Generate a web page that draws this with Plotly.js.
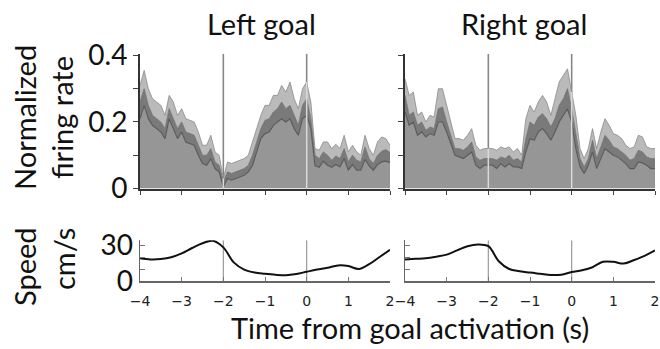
<!DOCTYPE html>
<html>
<head>
<meta charset="utf-8">
<script src="https://cdn.plot.ly/plotly-3.0.1.min.js"></script>
<style>html,body{margin:0;padding:0;background:#fff;}#chart{width:660px;height:349px;}</style>
</head>
<body>
<div id="chart"></div>
<script>
// ---- Data ----
const timeFR = [-4.0,-3.9,-3.8,-3.7,-3.6,-3.5,-3.4,-3.3,-3.2,-3.1,-3.0,-2.9,-2.8,-2.7,-2.6,-2.5,-2.4,-2.3,-2.2,-2.1,-2.0,-1.9,-1.8,-1.7,-1.6,-1.5,-1.4,-1.3,-1.2,-1.1,-1.0,-0.9,-0.8,-0.7,-0.6,-0.5,-0.4,-0.3,-0.2,-0.1,0.0,0.1,0.2,0.3,0.4,0.5,0.6,0.7,0.8,0.9,1.0,1.1,1.2,1.3,1.4,1.5,1.6,1.7,1.8,1.9,2.0];

// Left goal: upper (mean+SEM), mean, lower (mean-SEM)
const leftUpper = [0.31,0.355,0.30,0.27,0.26,0.25,0.22,0.28,0.26,0.22,0.24,0.21,0.205,0.20,0.17,0.13,0.13,0.16,0.11,0.10,0.03,0.08,0.075,0.08,0.085,0.09,0.10,0.14,0.18,0.22,0.25,0.25,0.28,0.28,0.31,0.29,0.32,0.27,0.24,0.30,0.32,0.26,0.12,0.115,0.14,0.14,0.12,0.133,0.12,0.16,0.11,0.13,0.11,0.10,0.16,0.12,0.10,0.14,0.155,0.15,0.13];
const leftMean  = [0.26,0.30,0.25,0.22,0.21,0.20,0.18,0.24,0.21,0.18,0.20,0.17,0.165,0.16,0.13,0.10,0.10,0.12,0.08,0.07,0.02,0.05,0.045,0.05,0.055,0.06,0.07,0.10,0.14,0.18,0.205,0.21,0.23,0.24,0.26,0.24,0.25,0.22,0.19,0.25,0.27,0.21,0.10,0.09,0.11,0.10,0.085,0.098,0.09,0.12,0.08,0.10,0.085,0.08,0.125,0.09,0.075,0.10,0.112,0.117,0.108];
const leftLower = [0.21,0.25,0.21,0.19,0.18,0.17,0.15,0.21,0.18,0.15,0.17,0.14,0.135,0.13,0.10,0.075,0.07,0.09,0.06,0.05,0.005,0.03,0.025,0.03,0.035,0.04,0.05,0.07,0.11,0.15,0.165,0.17,0.19,0.20,0.21,0.20,0.21,0.18,0.16,0.21,0.22,0.18,0.068,0.064,0.082,0.07,0.064,0.072,0.065,0.09,0.055,0.072,0.055,0.055,0.088,0.068,0.055,0.072,0.08,0.082,0.078];

// Right goal
const rightUpper = [0.33,0.28,0.29,0.22,0.23,0.20,0.22,0.215,0.30,0.30,0.25,0.20,0.15,0.15,0.145,0.16,0.18,0.13,0.115,0.12,0.12,0.12,0.115,0.125,0.12,0.125,0.11,0.12,0.10,0.21,0.25,0.23,0.26,0.28,0.26,0.22,0.27,0.32,0.34,0.36,0.29,0.22,0.12,0.09,0.12,0.18,0.12,0.17,0.21,0.19,0.165,0.16,0.15,0.13,0.12,0.125,0.16,0.155,0.125,0.12,0.12];
const rightMean  = [0.28,0.22,0.23,0.19,0.20,0.175,0.185,0.18,0.24,0.245,0.20,0.16,0.12,0.12,0.115,0.125,0.14,0.095,0.085,0.09,0.09,0.09,0.085,0.095,0.09,0.10,0.085,0.09,0.08,0.15,0.20,0.19,0.215,0.225,0.21,0.185,0.21,0.25,0.27,0.30,0.24,0.16,0.09,0.065,0.09,0.145,0.09,0.125,0.16,0.145,0.125,0.12,0.11,0.10,0.085,0.09,0.115,0.11,0.095,0.09,0.09];
const rightLower = [0.23,0.19,0.20,0.16,0.17,0.155,0.165,0.16,0.20,0.20,0.17,0.135,0.10,0.095,0.09,0.10,0.11,0.07,0.06,0.07,0.07,0.07,0.06,0.075,0.065,0.075,0.065,0.065,0.06,0.11,0.15,0.145,0.17,0.18,0.165,0.145,0.17,0.20,0.22,0.24,0.20,0.12,0.065,0.045,0.07,0.11,0.06,0.09,0.12,0.11,0.10,0.095,0.085,0.075,0.06,0.06,0.08,0.077,0.07,0.06,0.06];

// Running speed (cm/s)
const timeSpeed = [-4.0,-3.75,-3.5,-3.25,-3.0,-2.75,-2.5,-2.25,-2.0,-1.75,-1.5,-1.25,-1.0,-0.75,-0.5,-0.25,0.0,0.25,0.5,0.75,1.0,1.25,1.5,1.75,2.0];
const leftSpeed  = [19,18,18.3,19.8,23,27.5,31.5,33.5,28,15.5,9.5,7,6,5.2,4.8,5.8,7.7,9.5,11,13,12.5,10,14,20,26];
const rightSpeed = [18,18.5,19,20.3,22,25.5,29,30.5,29,16.5,10,8.2,7,6,5,5.3,7.5,9,11.5,16,16,14.5,17.5,21,25.5];

const xTicks = [-4,-3,-2,-1,0,1,2];
const xTickText = ['\u22124','\u22123','\u22122','\u22121','0','1','2'];
const frTicks = [0,0.1,0.2,0.3,0.4];
const frTickText = ['0','','0.2','','0.4'];
const spTicks = [0,10,20,30];
const spTickText = ['0','','','30'];
const eventTimes = [-2, 0];

// ---- Styling ----
const baseFill = '#969696', meanFill = '#7a7a7a', semFill = '#bababa';
const traces = [];
function band(xa, ya, lo, mid, up) {
  traces.push({x: timeFR, y: lo, xaxis: xa, yaxis: ya, type: 'scatter', mode: 'lines',
    line: {color: '#5c5c5c', width: 1.2}, fill: 'tozeroy', fillcolor: baseFill, hoverinfo: 'skip'});
  traces.push({x: timeFR, y: mid, xaxis: xa, yaxis: ya, type: 'scatter', mode: 'lines',
    line: {color: '#6a6a6a', width: 0.8}, fill: 'tonexty', fillcolor: meanFill, hoverinfo: 'skip'});
  traces.push({x: timeFR, y: up, xaxis: xa, yaxis: ya, type: 'scatter', mode: 'lines',
    line: {color: '#8a8a8a', width: 0.8}, fill: 'tonexty', fillcolor: semFill, hoverinfo: 'skip'});
  // light event-line segment inside the filled area
  eventTimes.forEach(function(et){
    const i = timeFR.indexOf(et);
    traces.push({x: [et, et], y: [0, up[i]], xaxis: xa, yaxis: ya, type: 'scatter', mode: 'lines',
      line: {color: '#d9d9d9', width: 1.5}, hoverinfo: 'skip'});
  });
}
band('x', 'y', leftLower, leftMean, leftUpper);
band('x2', 'y2', rightLower, rightMean, rightUpper);

traces.push({x: timeSpeed, y: leftSpeed, xaxis: 'x3', yaxis: 'y3', type: 'scatter', mode: 'lines',
  line: {color: '#111', width: 2, shape: 'spline', smoothing: 1}, hoverinfo: 'skip'});
traces.push({x: timeSpeed, y: rightSpeed, xaxis: 'x4', yaxis: 'y4', type: 'scatter', mode: 'lines',
  line: {color: '#111', width: 2, shape: 'spline', smoothing: 1}, hoverinfo: 'skip'});

const W = 660, H = 349;
const px = v => v / W, py = v => 1 - v / H;
const frRange = [0, 0.405], spRange = [0, 34];
const tickFontBig = {family: 'Lato, sans-serif', size: 28, color: '#111'};
const tickFontSmall = {family: 'DejaVu Sans, sans-serif', size: 14, color: '#222'};

function topX(dom) {
  return {domain: dom, range: [-4, 2], showgrid: false, zeroline: false, showline: true,
    linecolor: '#333', linewidth: 2, ticks: 'outside', ticklen: 4, tickwidth: 1, tickcolor: '#444',
    tickvals: xTicks, showticklabels: false, fixedrange: true};
}
function topY(dom, anchor, labels) {
  return {domain: dom, range: frRange, anchor: anchor, showgrid: false, zeroline: false, showline: true,
    linecolor: '#333', linewidth: 2, ticks: 'outside', ticklen: 5, tickwidth: 1, tickcolor: '#444',
    tickvals: frTicks, ticktext: frTickText, showticklabels: labels, tickfont: tickFontBig, fixedrange: true};
}
function botX(dom, anchor) {
  return {domain: dom, range: [-4, 2], anchor: anchor, showgrid: false, zeroline: false, showline: true,
    linecolor: '#666', linewidth: 1.5, ticks: 'inside', ticklen: 4, tickwidth: 1, tickcolor: '#777',
    tickvals: xTicks, ticktext: xTickText, tickfont: tickFontSmall, ticklabelstandoff: 7, fixedrange: true};
}
function botY(dom, anchor, labels) {
  return {domain: dom, range: spRange, anchor: anchor, showgrid: false, zeroline: false, showline: true,
    linecolor: '#666', linewidth: 1.5, ticks: 'inside', ticklen: 5, tickwidth: 1, tickcolor: '#777',
    tickvals: spTicks, ticktext: spTickText, showticklabels: labels, tickfont: tickFontBig, fixedrange: true};
}

const xL = [px(140), px(390)], xR = [px(405), px(655)];
const yTop = [py(188.5), py(53.8)], yBot = [py(281), py(240.2)];

const shapes = [];
[['x','y',frRange],['x2','y2',frRange],['x3','y3',spRange],['x4','y4',spRange]].forEach(function(a, k){
  eventTimes.forEach(function(et){
    shapes.push({type: 'line', xref: a[0], yref: a[1], x0: et, x1: et, y0: a[2][0], y1: a[2][1],
      layer: 'below', line: {color: k < 2 ? '#8c8585' : '#9a9a9a', width: k < 2 ? 1.6 : 1.2}});
  });
});

const annFont = {family: 'Lato, sans-serif', size: 29, color: '#111'};
const annotations = [
  {text: 'Left goal', x: px(261), y: py(24), xref: 'paper', yref: 'paper', showarrow: false, font: annFont, xanchor: 'center', yanchor: 'middle'},
  {text: 'Right goal', x: px(524), y: py(24), xref: 'paper', yref: 'paper', showarrow: false, font: annFont, xanchor: 'center', yanchor: 'middle'},
  {text: 'Normalized', x: px(24), y: py(118), xref: 'paper', yref: 'paper', showarrow: false, font: annFont, textangle: -90, xanchor: 'center', yanchor: 'middle'},
  {text: 'firing rate', x: px(61), y: py(118), xref: 'paper', yref: 'paper', showarrow: false, font: annFont, textangle: -90, xanchor: 'center', yanchor: 'middle'},
  {text: 'Speed', x: px(24), y: py(267), xref: 'paper', yref: 'paper', showarrow: false, font: annFont, textangle: -90, xanchor: 'center', yanchor: 'middle'},
  {text: 'cm/s', x: px(63), y: py(259), xref: 'paper', yref: 'paper', showarrow: false, font: annFont, textangle: -90, xanchor: 'center', yanchor: 'middle'},
  {text: 'Time from goal activation (s)', x: px(410), y: py(327), xref: 'paper', yref: 'paper', showarrow: false, font: annFont, xanchor: 'center', yanchor: 'middle'}
];

const layout = {
  width: W, height: H, margin: {l: 0, r: 0, t: 0, b: 0},
  paper_bgcolor: '#fff', plot_bgcolor: 'rgba(0,0,0,0)', showlegend: false,
  xaxis: Object.assign(topX(xL), {anchor: 'y'}),
  yaxis: topY(yTop, 'x', true),
  xaxis2: Object.assign(topX(xR), {anchor: 'y2'}),
  yaxis2: topY(yTop, 'x2', false),
  xaxis3: botX(xL, 'y3'),
  yaxis3: botY(yBot, 'x3', true),
  xaxis4: botX(xR, 'y4'),
  yaxis4: botY(yBot, 'x4', false),
  shapes: shapes,
  annotations: annotations
};

Plotly.newPlot('chart', traces, layout, {staticPlot: true, displayModeBar: false});
</script>
</body>
</html>
